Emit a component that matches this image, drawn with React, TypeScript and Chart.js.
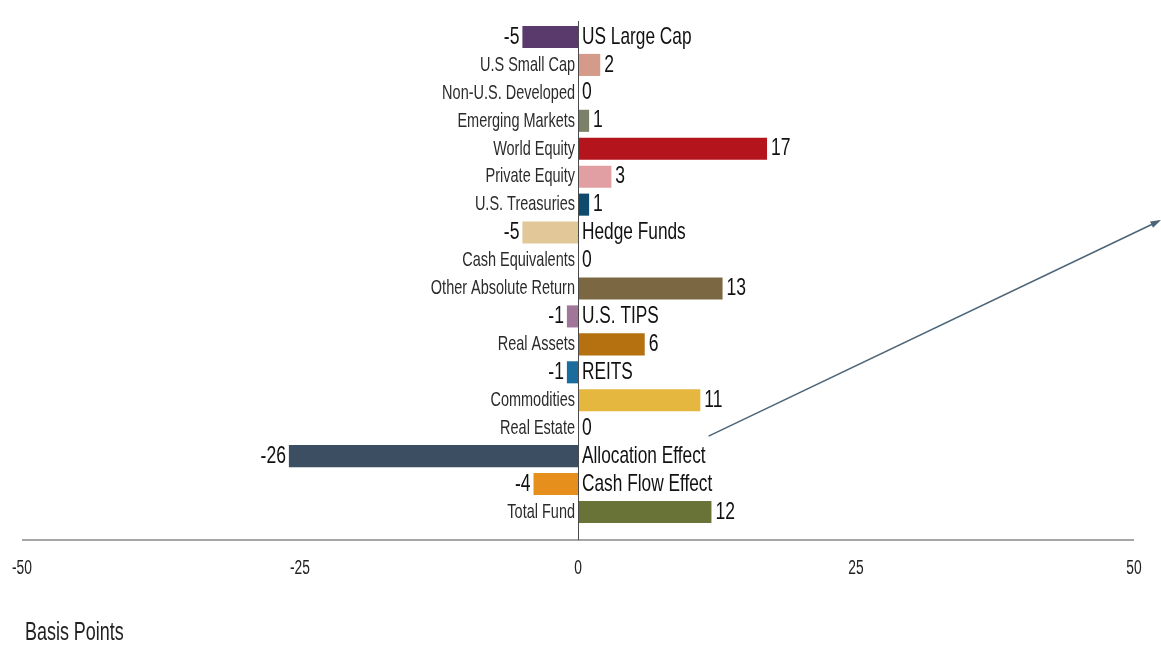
import React, { useEffect, useRef } from "react";
import { Chart, registerables } from "chart.js";

Chart.register(...registerables);

const categories = [
  "US Large Cap",
  "U.S Small Cap",
  "Non-U.S. Developed",
  "Emerging Markets",
  "World Equity",
  "Private Equity",
  "U.S. Treasuries",
  "Hedge Funds",
  "Cash Equivalents",
  "Other Absolute Return",
  "U.S. TIPS",
  "Real Assets",
  "REITS",
  "Commodities",
  "Real Estate",
  "Allocation Effect",
  "Cash Flow Effect",
  "Total Fund",
];

const values = [-5, 2, 0, 1, 17, 3, 1, -5, 0, 13, -1, 6, -1, 11, 0, -26, -4, 12];

const barColors = [
  "#5a3a6c",
  "#d49a8a",
  "#8a8a8a",
  "#7b8168",
  "#b4151d",
  "#e19fa3",
  "#0e4a6d",
  "#e2c898",
  "#8a8a8a",
  "#7b6843",
  "#a07799",
  "#b5700f",
  "#1c6c9e",
  "#e5b73e",
  "#8a8a8a",
  "#3c4f62",
  "#e68f1c",
  "#6a7337",
];

const xTicks = [-50, -25, 0, 25, 50];
const axisTitle = "Basis Points";

const FONT = '"Liberation Sans", Arial, sans-serif';

function drawText(
  ctx: CanvasRenderingContext2D,
  text: string,
  x: number,
  y: number,
  size: number,
  align: CanvasTextAlign,
  color: string,
  sx = 0.69
) {
  ctx.save();
  ctx.font = `${size}px ${FONT}`;
  ctx.fillStyle = color;
  ctx.textAlign = align;
  ctx.textBaseline = "middle";
  ctx.translate(x, y);
  ctx.scale(sx, 1);
  ctx.fillText(text, 0, 0);
  ctx.restore();
}

function textWidth(ctx: CanvasRenderingContext2D, text: string, size: number, sx = 0.69) {
  ctx.save();
  ctx.font = `${size}px ${FONT}`;
  const w = ctx.measureText(text).width * sx;
  ctx.restore();
  return w;
}

const BIG_SX = 0.72;
const VAL_SX = 0.73;

const labelPlugin = {
  id: "barLabels",
  afterDatasetsDraw(chart: any) {
    const ctx: CanvasRenderingContext2D = chart.ctx;
    const xs = chart.scales.x;
    const area = chart.chartArea;
    const xZero = xs.getPixelForValue(0);
    const axisY = area.bottom + 14;
    ctx.save();
    // axis line
    ctx.strokeStyle = "#a6a6a6";
    ctx.lineWidth = 2;
    ctx.beginPath();
    ctx.moveTo(xs.getPixelForValue(xTicks[0]), axisY);
    ctx.lineTo(xs.getPixelForValue(xTicks[xTicks.length - 1]), axisY);
    ctx.stroke();
    // zero line
    ctx.strokeStyle = "#4a4a4a";
    ctx.lineWidth = 1;
    ctx.beginPath();
    ctx.moveTo(Math.round(xZero) + 0.5, area.top - 2);
    ctx.lineTo(Math.round(xZero) + 0.5, axisY);
    ctx.stroke();

    // tick labels
    xs.ticks.forEach((t: any) => {
      drawText(ctx, String(t.value), xs.getPixelForValue(t.value), axisY + 28, 20, "center", "#222222");
    });
    // axis title
    drawText(ctx, axisTitle, xs.getPixelForValue(xTicks[0]) + 3, axisY + 93, 26, "left", "#222222");

    const meta = chart.getDatasetMeta(0);
    meta.data.forEach((bar: any, i: number) => {
      const v = values[i];
      const y = bar.y;
      if (v >= 0) {
        drawText(ctx, categories[i], xZero - 3, y, 21, "right", "#2b2b2b");
        drawText(ctx, String(v), bar.x + 4, y, 24, "left", "#111111", VAL_SX);
      } else {
        drawText(ctx, categories[i], xZero + 4, y, 24, "left", "#111111", BIG_SX);
        drawText(ctx, String(v), bar.x - 3, y, 24, "right", "#111111", VAL_SX);
      }
    });

    // annotation arrow from "Allocation Effect" label toward the right edge
    const idx = categories.indexOf("Allocation Effect");
    const b: any = meta.data[idx];
    const w = textWidth(ctx, categories[idx], 24, BIG_SX);
    const sx = xZero + 4 + w + 3;
    const sy = b.y - 20;
    const ex = chart.width - 2;
    const ey = 221;
    ctx.strokeStyle = "#4c6578";
    ctx.fillStyle = "#4c6578";
    ctx.lineWidth = 1.6;
    ctx.beginPath();
    ctx.moveTo(sx, sy);
    ctx.lineTo(ex, ey);
    ctx.stroke();
    const ang = Math.atan2(ey - sy, ex - sx);
    const hl = 9;
    ctx.beginPath();
    ctx.moveTo(ex + 2, ey - 1);
    ctx.lineTo(ex - hl * Math.cos(ang - 0.4), ey - hl * Math.sin(ang - 0.4));
    ctx.lineTo(ex - hl * Math.cos(ang + 0.4), ey - hl * Math.sin(ang + 0.4));
    ctx.closePath();
    ctx.fill();
    ctx.restore();
  },
};

export default function App() {
  const ref = useRef<HTMLCanvasElement | null>(null);
  useEffect(() => {
    document.body.style.margin = "0";
    const chart = new Chart(ref.current as HTMLCanvasElement, {
      type: "bar",
      data: {
        labels: categories,
        datasets: [
          {
            data: values,
            backgroundColor: barColors,
            borderWidth: 0,
            categoryPercentage: 1,
            barPercentage: 0.79,
          },
        ],
      },
      options: {
        indexAxis: "y",
        animation: false,
        responsive: true,
        maintainAspectRatio: false,
        layout: { padding: { left: 22, right: 27, top: 23, bottom: 0 } },
        plugins: { legend: { display: false }, tooltip: { enabled: false } },
        scales: {
          x: {
            type: "linear",
            min: -50,
            max: 50,
            afterBuildTicks: (s: any) => {
              s.ticks = xTicks.map((v) => ({ value: v }));
            },
            afterFit: (s: any) => {
              s.height = 119;
            },
            grid: { display: false, drawTicks: false },
            border: { display: false },
            ticks: { display: false },
            title: { display: false },
          },
          y: {
            display: false,
          },
        },
      },
      plugins: [labelPlugin],
    } as any);
    return () => chart.destroy();
  }, []);
  return (
    <div style={{ position: "relative", width: 1161, height: 645 }}>
      <canvas ref={ref} />
    </div>
  );
}
